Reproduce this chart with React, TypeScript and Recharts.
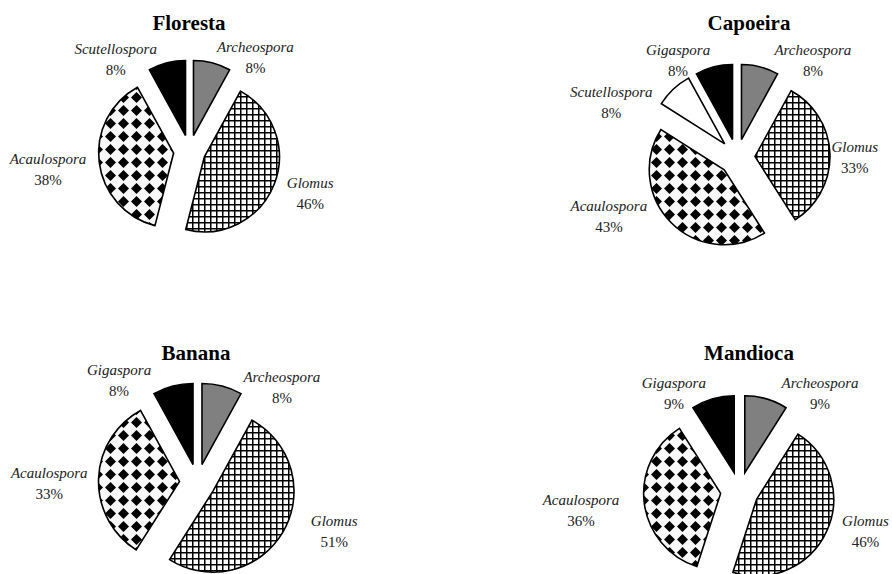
import React from 'react';
import { PieChart, Pie, Cell, Sector } from 'recharts';

// ---- data ----
const florestaNames = ['Archeospora', 'Glomus', 'Acaulospora', 'Scutellospora'];
const florestaValues = [8, 46, 38, 8];

const capoeiraNames = ['Archeospora', 'Glomus', 'Acaulospora', 'Scutellospora', 'Gigaspora'];
const capoeiraValues = [8, 33, 43, 8, 8];

const bananaNames = ['Archeospora', 'Glomus', 'Acaulospora', 'Gigaspora'];
const bananaValues = [8, 51, 33, 8];

const mandiocaNames = ['Archeospora', 'Glomus', 'Acaulospora', 'Gigaspora'];
const mandiocaValues = [9, 46, 36, 9];

const titles = ['Floresta', 'Capoeira', 'Banana', 'Mandioca'];

// ---- layout / style (kept apart from data) ----
const SERIF = "'Liberation Serif', 'Times New Roman', serif";
const layout = [
  { cx: 189.5, cy: 151, r: 75, explode: 16, tx: 189, ty: 30 },
  { cx: 737, cy: 157, r: 75, explode: 18, tx: 749, ty: 30 },
  { cx: 197.5, cy: 482, r: 81, explode: 18, tx: 196, ty: 360 },
  { cx: 739.5, cy: 491, r: 77, explode: 19, tx: 749, ty: 360 },
];

// per-label fine adjustments [dx, dy] (layout only)
const labelNudges: number[][][] = [
  [[0, 3], [2, 1], [1, 2], [-1, 5]],
  [[10, 0], [-8, 0], [-15, -17], [-8, 17], [0, 0]],
  [[17, 8], [20, -9], [1, 1], [-18, 1]],
  [[11, 0], [8, -8], [-14, 3], [-3, 0]],
];

const RADIAN = Math.PI / 180;

const build = (names: string[], values: number[]) =>
  names.map((name, i) => ({ name, value: values[i] }));

const datasets = [
  build(florestaNames, florestaValues),
  build(capoeiraNames, capoeiraValues),
  build(bananaNames, bananaValues),
  build(mandiocaNames, mandiocaValues),
];

const fillFor = (name: string, index: number, count: number) => {
  if (index === count - 1) return '#000000';
  if (name === 'Archeospora') return '#808080';
  if (name === 'Glomus') return 'url(#gridPat)';
  if (name === 'Acaulospora') return 'url(#diamondPat)';
  return '#ffffff';
};

const makeShape = (d: number) => (props: any) => {
  const { cx, cy, midAngle } = props;
  const dx = Math.cos(-midAngle * RADIAN) * d;
  const dy = Math.sin(-midAngle * RADIAN) * d;
  return <Sector {...props} cx={cx + dx} cy={cy + dy} />;
};

const approxWidth = (s: string, fs: number) => s.length * fs * 0.48;

const makeLabel = (extra: number, nudges: number[][]) => (props: any) => {
  const { cx, cy, midAngle, outerRadius, name, value, index } = props;
  const R = outerRadius + extra;
  const dirX = Math.cos(-midAngle * RADIAN);
  const dirY = Math.sin(-midAngle * RADIAN);
  const ax = cx + dirX * R;
  const ay = cy + dirY * R;
  const fs = 15;
  const half = approxWidth(name, 14.5) / 2;
  const n = nudges[index] || [0, 0];
  const bx = ax + (dirX >= 0 ? 1 : -1) * (half + 2) + n[0];
  const by = ay + n[1];
  return (
    <g>
      <text x={bx} y={by - 2} textAnchor="middle" fontFamily={SERIF} fontStyle="italic" fontSize={fs} fill="#222">
        {name}
      </text>
      <text x={bx} y={by + 19} textAnchor="middle" fontFamily={SERIF} fontSize={fs} fill="#222">
        {`${value}%`}
      </text>
    </g>
  );
};

export default function App() {
  return (
    <div style={{ position: 'absolute', left: 0, top: 0, width: 892, height: 574, background: '#fff' }}>
      <PieChart width={892} height={574} margin={{ top: 0, right: 0, bottom: 0, left: 0 }}>
        <defs>
          <pattern id="gridPat" width="6" height="6" patternUnits="userSpaceOnUse">
            <rect width="6" height="6" fill="#ffffff" />
            <rect x="0" y="0" width="6" height="1.5" fill="#000" />
            <rect x="0" y="0" width="1.5" height="6" fill="#000" />
          </pattern>
          <pattern id="diamondPat" width="13" height="13" patternUnits="userSpaceOnUse">
            <rect width="13" height="13" fill="#f8f8f8" />
            <polygon points="6.5,1 12,6.5 6.5,12 1,6.5" fill="#000" />
          </pattern>
        </defs>
        {datasets.map((data, k) => {
          const L = layout[k];
          const shape = makeShape(L.explode);
          return (
            <Pie
              key={titles[k]}
              data={data}
              dataKey="value"
              nameKey="name"
              cx={L.cx}
              cy={L.cy}
              outerRadius={L.r}
              startAngle={90}
              endAngle={-270}
              stroke="#000"
              strokeWidth={1.6}
              isAnimationActive={false}
              shape={shape}
              activeShape={shape}
              inactiveShape={shape}
              label={makeLabel(28, labelNudges[k])}
              labelLine={false}
            >
              {data.map((e, i) => (
                <Cell key={i} fill={fillFor(e.name, i, data.length)} />
              ))}
            </Pie>
          );
        })}
        {titles.map((t, k) => (
          <text
            key={t}
            x={layout[k].tx}
            y={layout[k].ty}
            textAnchor="middle"
            fontFamily={SERIF}
            fontWeight="bold"
            fontSize={21}
            fill="#000"
          >
            {t}
          </text>
        ))}
      </PieChart>
    </div>
  );
}
